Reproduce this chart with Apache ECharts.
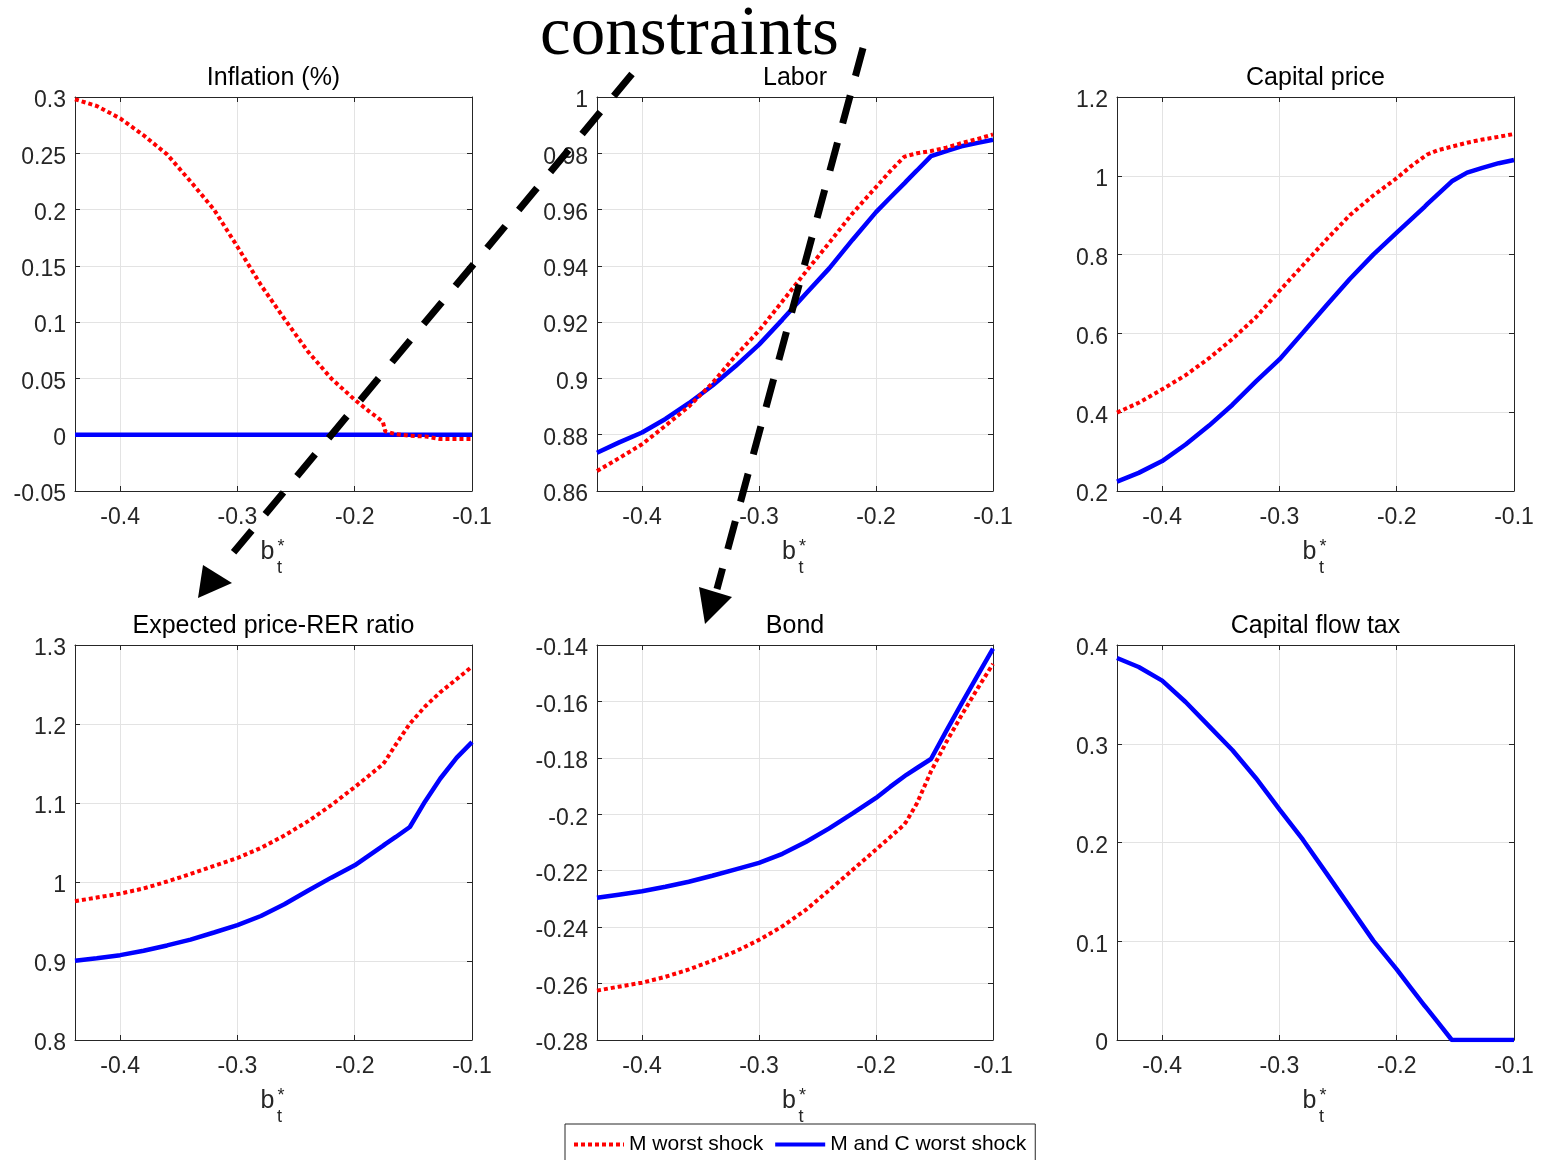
<!DOCTYPE html>
<html>
<head>
<meta charset="utf-8">
<script src="https://cdn.jsdelivr.net/npm/echarts@6/dist/echarts.min.js"></script>
<style>
html,body{margin:0;padding:0;background:#fff;}
#chart{width:1541px;height:1160px;}
</style>
</head>
<body>
<div id="chart"></div>
<script>
// ---------- data ----------
const bGrid = [-0.4385, -0.42, -0.4, -0.38, -0.36, -0.34, -0.32, -0.3, -0.28, -0.26, -0.24, -0.22, -0.2, -0.188, -0.176, -0.174, -0.165, -0.153, -0.14, -0.127, -0.113, -0.1];

const inflationM  = [0.298, 0.292, 0.281, 0.266, 0.249, 0.225, 0.200, 0.167, 0.133, 0.103, 0.074, 0.050, 0.031, 0.021, 0.0115, 0.003, 0.0005, -0.001, -0.0015, -0.0038, -0.0038, -0.0038];
const inflationMC = [0, 0, 0, 0, 0, 0, 0, 0, 0, 0, 0, 0, 0, 0, 0, 0, 0, 0, 0, 0, 0, 0];

const laborM  = [0.8671, 0.8716, 0.8766, 0.8832, 0.8900, 0.8983, 0.9081, 0.9170, 0.9274, 0.9379, 0.9482, 0.9587, 0.9680, 0.9736, 0.9787, 0.9790, 0.9800, 0.9808, 0.9820, 0.9836, 0.9851, 0.9867];
const laborMC = [0.8736, 0.8772, 0.8808, 0.8856, 0.8912, 0.8974, 0.9044, 0.9120, 0.9209, 0.9301, 0.9391, 0.9493, 0.9591, 0.9642, 0.9692, 0.9701, 0.9739, 0.9790, 0.9808, 0.9825, 0.9837, 0.9848];

const capPriceM  = [0.399, 0.424, 0.458, 0.494, 0.537, 0.586, 0.641, 0.708, 0.773, 0.838, 0.900, 0.950, 0.994, 1.024, 1.050, 1.054, 1.065, 1.074, 1.084, 1.092, 1.099, 1.106];
const capPriceMC = [0.224, 0.246, 0.276, 0.318, 0.366, 0.419, 0.478, 0.534, 0.602, 0.671, 0.738, 0.800, 0.856, 0.889, 0.922, 0.928, 0.953, 0.986, 1.008, 1.020, 1.032, 1.040];

const expRatioM  = [0.9757, 0.9803, 0.9853, 0.9918, 1.0006, 1.0101, 1.0204, 1.0304, 1.0431, 1.0588, 1.0767, 1.0973, 1.1201, 1.1345, 1.1490, 1.1530, 1.1739, 1.2004, 1.2222, 1.2402, 1.2569, 1.2726];
const expRatioMC = [0.9003, 0.9036, 0.9074, 0.9130, 0.9197, 0.9270, 0.9361, 0.9453, 0.9570, 0.9718, 0.9890, 1.0055, 1.0211, 1.0335, 1.0458, 1.0480, 1.0570, 1.0696, 1.1020, 1.1310, 1.1575, 1.1770];

const bondM  = [-0.2625, -0.2611, -0.2597, -0.2576, -0.2550, -0.2519, -0.2486, -0.2445, -0.2397, -0.2339, -0.2269, -0.2197, -0.2125, -0.2081, -0.2037, -0.2025, -0.1961, -0.1848, -0.1745, -0.1650, -0.1553, -0.1467];
const bondMC = [-0.2296, -0.2285, -0.2273, -0.2257, -0.2239, -0.2218, -0.2195, -0.2172, -0.2140, -0.2098, -0.2050, -0.1997, -0.1942, -0.1903, -0.1866, -0.1860, -0.1836, -0.1804, -0.1705, -0.1609, -0.1507, -0.1413];

const taxMC = [0.3868, 0.3777, 0.3639, 0.3423, 0.3179, 0.2934, 0.2651, 0.2336, 0.2028, 0.1690, 0.1348, 0.1006, 0.0715, 0.0529, 0.0344, 0.0315, 0.0180, 0, 0, 0, 0, 0];

const xTicks = [-0.4, -0.3, -0.2, -0.1];
const xMin = -0.4385, xMax = -0.1;
const yTicksInflation = [-0.05, 0, 0.05, 0.1, 0.15, 0.2, 0.25, 0.3];
const yTicksLabor = [0.86, 0.88, 0.9, 0.92, 0.94, 0.96, 0.98, 1];
const yTicksCapPrice = [0.2, 0.4, 0.6, 0.8, 1, 1.2];
const yTicksExpRatio = [0.8, 0.9, 1, 1.1, 1.2, 1.3];
const yTicksBond = [-0.28, -0.26, -0.24, -0.22, -0.2, -0.18, -0.16, -0.14];
const yTicksTax = [0, 0.1, 0.2, 0.3, 0.4];

const titles = ['Inflation (%)', 'Labor', 'Capital price', 'Expected price-RER ratio', 'Bond', 'Capital flow tax'];
const nameM = 'M worst shock';
const nameMC = 'M and C worst shock';
const overlayWord = 'constraints';

// ---------- layout / style ----------
const FONT = "'Liberation Sans', Arial, Helvetica, sans-serif";
const AX = '#262626';
const GRIDC = '#e3e3e3';
const colLeft = [75, 597, 1117];
const colWidth = [397, 396, 397];
const rowTop = [97, 645];
const rowHeight = [394, 395];

const panels = [
  { title: titles[0], yTicks: yTicksInflation, m: inflationM, mc: inflationMC },
  { title: titles[1], yTicks: yTicksLabor, m: laborM, mc: laborMC },
  { title: titles[2], yTicks: yTicksCapPrice, m: capPriceM, mc: capPriceMC },
  { title: titles[3], yTicks: yTicksExpRatio, m: expRatioM, mc: expRatioMC },
  { title: titles[4], yTicks: yTicksBond, m: bondM, mc: bondMC },
  { title: titles[5], yTicks: yTicksTax, m: null, mc: taxMC }
];

const grid = [], xAxis = [], yAxis = [], series = [], title = [], graphic = [];
const pairs = arr => bGrid.map((x, i) => [x, arr[i]]);

panels.forEach((p, i) => {
  const r = Math.floor(i / 3), c = i % 3;
  const left = colLeft[c], top = rowTop[r], w = colWidth[c], h = rowHeight[r];
  grid.push({ left: left, top: top, width: w, height: h, containLabel: false });
  const cx = left + w / 2;
  title.push({
    text: p.title, left: cx, top: top - 31, textAlign: 'center', padding: 0,
    textStyle: { fontFamily: FONT, fontSize: 25, fontWeight: 'normal', color: '#000' }
  });
  const ymin = p.yTicks[0], ymax = p.yTicks[p.yTicks.length - 1];
  xAxis.push({
    type: 'value', gridIndex: i, min: xMin, max: xMax, position: 'bottom',
    axisLine: { show: true, onZero: false, lineStyle: { color: AX, width: 1 } },
    axisTick: { show: true, inside: true, length: 5, customValues: xTicks, lineStyle: { color: AX } },
    axisLabel: { show: true, customValues: xTicks, margin: 15, fontSize: 23, fontFamily: FONT, color: AX, formatter: v => String(v) },
    splitLine: { show: true, lineStyle: { color: GRIDC, width: 1 } }
  });
  xAxis.push({
    type: 'value', gridIndex: i, min: xMin, max: xMax, position: 'top',
    axisLine: { show: true, onZero: false, lineStyle: { color: AX, width: 1 } },
    axisTick: { show: true, inside: true, length: 5, customValues: xTicks, lineStyle: { color: AX } },
    axisLabel: { show: false }, splitLine: { show: false }
  });
  yAxis.push({
    type: 'value', gridIndex: i, min: ymin, max: ymax, position: 'left',
    axisLine: { show: true, onZero: false, lineStyle: { color: AX, width: 1 } },
    axisTick: { show: true, inside: true, length: 5, customValues: p.yTicks, lineStyle: { color: AX } },
    axisLabel: { show: true, customValues: p.yTicks, margin: 9, color: AX,
      formatter: v => '{a|' + String(+v.toFixed(4)) + '}',
      rich: { a: { fontSize: 23, fontFamily: FONT, color: AX, padding: [8, 0, 0, 0] } } },
    splitLine: { show: true, lineStyle: { color: GRIDC, width: 1 } }
  });
  yAxis.push({
    type: 'value', gridIndex: i, min: ymin, max: ymax, position: 'right',
    axisLine: { show: true, onZero: false, lineStyle: { color: AX, width: 1 } },
    axisTick: { show: true, inside: true, length: 5, customValues: p.yTicks, lineStyle: { color: AX } },
    axisLabel: { show: false }, splitLine: { show: false }
  });
  if (p.m) {
    series.push({
      name: nameM, type: 'line', xAxisIndex: 2 * i, yAxisIndex: 2 * i, data: pairs(p.m),
      showSymbol: false, symbol: 'none', z: 4, clip: true,
      lineStyle: { color: '#ff0000', width: 4, type: [4, 3], cap: 'butt' },
      itemStyle: { color: '#ff0000' }
    });
  }
  series.push({
    name: nameMC, type: 'line', xAxisIndex: 2 * i, yAxisIndex: 2 * i, data: pairs(p.mc),
    showSymbol: false, symbol: 'none', z: 3, clip: true,
    lineStyle: { color: '#0000ff', width: 4.5, type: 'solid' },
    itemStyle: { color: '#0000ff' }
  });
  const base = top + h + 70;
  graphic.push({ type: 'text', x: cx - 13, y: base - 8.4, z: 50,
    style: { text: 'b', font: '25px ' + FONT, fill: AX, verticalAlign: 'middle', align: 'left' } });
  graphic.push({ type: 'text', x: cx + 4, y: base - 14, z: 50,
    style: { text: '*', font: '18px ' + FONT, fill: AX, verticalAlign: 'middle', align: 'left' } });
  graphic.push({ type: 'text', x: cx + 3.5, y: base + 7, z: 50,
    style: { text: 't', font: '18px ' + FONT, fill: AX, verticalAlign: 'middle', align: 'left' } });
});

// overlay annotation: word and two dashed arrows
graphic.push({ type: 'text', x: 540, y: 36, z: 100,
  style: { text: overlayWord, font: "69px 'Liberation Serif', 'Times New Roman', serif", fill: '#000', verticalAlign: 'middle', align: 'left' } });
graphic.push({ type: 'line', z: 100, shape: { x1: 632, y1: 74, x2: 233, y2: 553 },
  style: { stroke: '#000', lineWidth: 7, lineDash: [28.5, 21], lineCap: 'butt' } });
graphic.push({ type: 'polygon', z: 100, shape: { points: [[203, 565], [232, 583], [198, 598]] },
  style: { fill: '#000' } });
graphic.push({ type: 'line', z: 100, shape: { x1: 863, y1: 48, x2: 717, y2: 589 },
  style: { stroke: '#000', lineWidth: 7, lineDash: [29, 20], lineCap: 'butt' } });
graphic.push({ type: 'polygon', z: 100, shape: { points: [[699, 587], [732, 597], [705, 624]] },
  style: { fill: '#000' } });

const option = {
  animation: false,
  backgroundColor: '#fff',
  title: title,
  grid: grid,
  xAxis: xAxis,
  yAxis: yAxis,
  series: series,
  legend: {
    data: [nameM, nameMC], left: 565, top: 1124, orient: 'horizontal',
    itemWidth: 50, itemHeight: 12, itemGap: 10,
    padding: [10, 9, 10, 7], borderColor: AX, borderWidth: 1, backgroundColor: '#fff',
    itemStyle: { opacity: 0 },
    lineStyle: { width: 4 },
    textStyle: { fontFamily: FONT, fontSize: 21, color: '#000' },
    selectedMode: false
  },
  graphic: graphic
};

const chart = echarts.init(document.getElementById('chart'), null, { renderer: 'canvas' });
chart.setOption(option);
</script>
</body>
</html>
